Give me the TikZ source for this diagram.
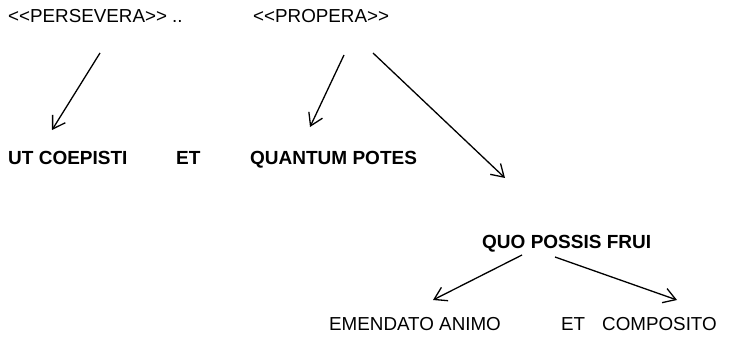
\documentclass[tikz,border=0pt]{standalone}
\usepackage{fontspec}
\setmainfont{Liberation Sans}
\usetikzlibrary{arrows.meta}
\begin{document}
\begin{tikzpicture}[x=1pt,y=-1pt,
  lbl/.style={anchor=base west,inner sep=0pt,font=\fontsize{18.8}{22}\selectfont},
  blbl/.style={anchor=base west,inner sep=0pt,font=\fontsize{19}{22}\selectfont\bfseries},
  arr/.style={line width=1.3pt,-{Straight Barb[length=12pt,width=15pt,line width=1.3pt]}}]
\useasboundingbox (0,0) rectangle (750,337);
\node[lbl] (pers) at (8,23) {<{}<PERSEVERA>{}> ..};
\node[lbl] (prop) at (253,23) {<{}<PROPERA>{}>};
\node[blbl] (ut) at (8,164) {UT COEPISTI};
\node[blbl] (et1) at (176,164) {ET};
\node[blbl] (quant) at (250,164) {QUANTUM POTES};
\node[blbl] (quo) at (482,248) {QUO POSSIS FRUI};
\node[lbl] (emen) at (329,330) {EMENDATO ANIMO};
\node[lbl] (et2) at (561,330) {ET};
\node[lbl] (comp) at (602,330) {COMPOSITO};
\draw[arr] ([shift={(92,30)}]pers.base west) -- ([shift={(44,-34)}]ut.base west);
\draw[arr] ([shift={(91,32)}]prop.base west) -- ([shift={(60,-37)}]quant.base west);
\draw[arr] ([shift={(120,30)}]prop.base west) -- ([shift={(23,-70)}]quo.base west);
\draw[arr] ([shift={(40,7)}]quo.base west) -- ([shift={(104,-30)}]emen.base west);
\draw[arr] ([shift={(73,9)}]quo.base west) -- ([shift={(75,-30)}]comp.base west);
\end{tikzpicture}
\end{document}
